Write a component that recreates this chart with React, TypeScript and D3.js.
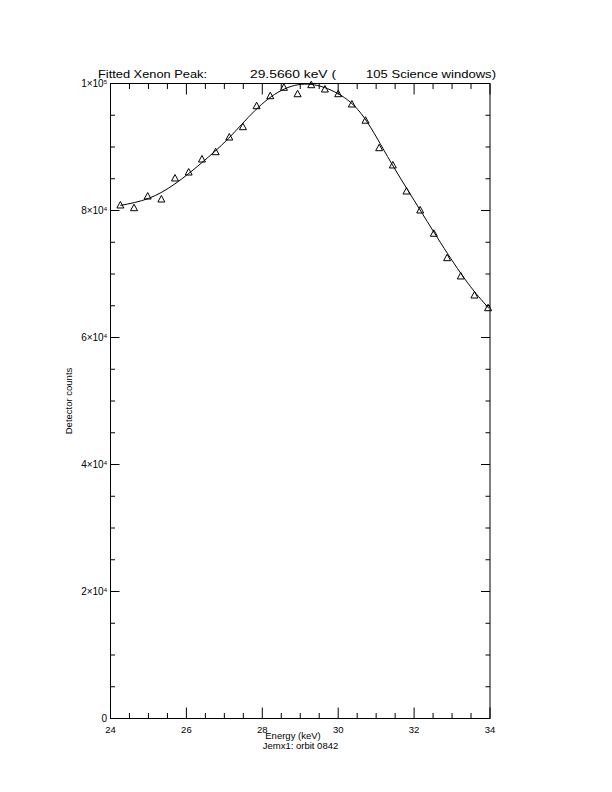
import React from "react";
import * as d3 from "d3";

// Measured data points (energy keV, detector counts)
const energies = [24.26, 24.62, 24.98, 25.34, 25.70, 26.06, 26.41, 26.77, 27.13, 27.49, 27.85, 28.21, 28.57, 28.93, 29.29, 29.65, 30.00, 30.36, 30.72, 31.08, 31.44, 31.80, 32.16, 32.52, 32.87, 33.23, 33.59, 33.95];
const counts = [80870, 80440, 82280, 81810, 85120, 86060, 88110, 89260, 91570, 93200, 96500, 98080, 99400, 98390, 99810, 99130, 98390, 96770, 94220, 89890, 87170, 83070, 80080, 76410, 72570, 69690, 66690, 64690];

// Fitted curve samples
const fitEnergies = [24.26, 25.0, 25.7, 26.4, 27.1, 27.8, 28.5, 29.2, 29.9, 30.6, 31.3, 32.0, 32.7, 33.4, 33.97];
const fitCounts = [80800, 81900, 84200, 87500, 91300, 95700, 98900, 99900, 98700, 95300, 88500, 81600, 74900, 68700, 64600];

const xMajorTicks = [24, 26, 28, 30, 32, 34];
const xTickLabels = ["24", "26", "28", "30", "32", "34"];
const yMajorTicks = [0, 20000, 40000, 60000, 80000, 100000];
const yTickMantissa = ["0", "2", "4", "6", "8", "1"];
const yTickExponent = ["", "4", "4", "4", "4", "5"];

const titleParts = ["Fitted Xenon Peak:", "29.5660 keV (", "105 Science windows)"];
const xTitle = "Energy (keV)";
const subTitle = "Jemx1: orbit 0842";
const yTitle = "Detector counts";

export default function App() {
  const left = 110.5, right = 490, top = 83.5, bottom = 718.5;
  const x = d3.scaleLinear().domain([24, 34]).range([left, right]);
  const y = d3.scaleLinear().domain([0, 100000]).range([bottom, top]);

  const xMinor = d3.range(24, 34.001, 0.5);
  const yMinor = d3.range(0, 100001, 5000);

  const line = d3
    .line<number>()
    .x((_, i) => x(fitEnergies[i]))
    .y((d) => y(d))
    .curve(d3.curveNatural);

  const font = "Liberation Sans, Arial, sans-serif";
  const xMaj = 11, xMin = 5.5, yMaj = 9, yMin = 4.5;

  return (
    <svg
      width={612}
      height={792}
      style={{ position: "absolute", left: 0, top: 0, background: "#fff" }}
      fontFamily={font}
    >
      <rect x={0} y={0} width={612} height={792} fill="#fff" />
      <rect x={left} y={top} width={right - left} height={bottom - top} fill="none" stroke="#000" strokeWidth={1} />
      {xMinor.map((v, i) => {
        const isMaj = Math.abs(v - Math.round(v / 2) * 2) < 1e-6;
        const len = isMaj ? xMaj : xMin;
        const px = x(v);
        return (
          <g key={"xt" + i} stroke="#000" strokeWidth={1}>
            <line x1={px} x2={px} y1={bottom} y2={bottom - len} />
            <line x1={px} x2={px} y1={top} y2={top + len} />
          </g>
        );
      })}
      {yMinor.map((v, i) => {
        const isMaj = v % 20000 === 0;
        const len = isMaj ? yMaj : yMin;
        const py = y(v);
        return (
          <g key={"yt" + i} stroke="#000" strokeWidth={1}>
            <line x1={left} x2={left + len} y1={py} y2={py} />
            <line x1={right} x2={right - len} y1={py} y2={py} />
          </g>
        );
      })}
      {xMajorTicks.map((v, i) => (
        <text key={"xl" + i} x={x(v)} y={732.5} fontSize={9.5} textAnchor="middle" fill="#000">
          {xTickLabels[i]}
        </text>
      ))}
      {yMajorTicks.map((v, i) => (
        <text key={"yl" + i} x={left - 3.5} y={y(v) + 3.5} fontSize={10} textAnchor="end" fill="#000">
          {yTickExponent[i] === "" ? (
            yTickMantissa[i]
          ) : (
            <>
              {yTickMantissa[i] + "\u00D710"}
              <tspan fontSize={6} dy={-3}>{yTickExponent[i]}</tspan>
            </>
          )}
        </text>
      ))}
      <path d={line(fitCounts) || ""} fill="none" stroke="#000" strokeWidth={1} />
      {energies.map((e, i) => {
        const px = x(e), py = y(counts[i]);
        return (
          <path
            key={"p" + i}
            d={`M${px - 3.5},${py + 3}L${px},${py - 3.5}L${px + 3.5},${py + 3}Z`}
            fill="none"
            stroke="#000"
            strokeWidth={1}
          />
        );
      })}
      <text x={98} y={77.5} fontSize={11.5} fill="#000" textLength={109} lengthAdjust="spacingAndGlyphs">{titleParts[0]}</text>
      <text x={250} y={77.5} fontSize={11.5} fill="#000" textLength={86} lengthAdjust="spacingAndGlyphs">{titleParts[1]}</text>
      <text x={366} y={77.5} fontSize={11.5} fill="#000" textLength={130} lengthAdjust="spacingAndGlyphs">{titleParts[2]}</text>
      <text x={293} y={738.5} fontSize={9.5} textAnchor="middle" fill="#000">{xTitle}</text>
      <text x={300.5} y={749} fontSize={9.5} textAnchor="middle" fill="#000">{subTitle}</text>
      <text
        transform={`translate(71.5,${(top + bottom) / 2}) rotate(-90)`}
        fontSize={9.5}
        textAnchor="middle"
        fill="#000"
      >
        {yTitle}
      </text>
    </svg>
  );
}
